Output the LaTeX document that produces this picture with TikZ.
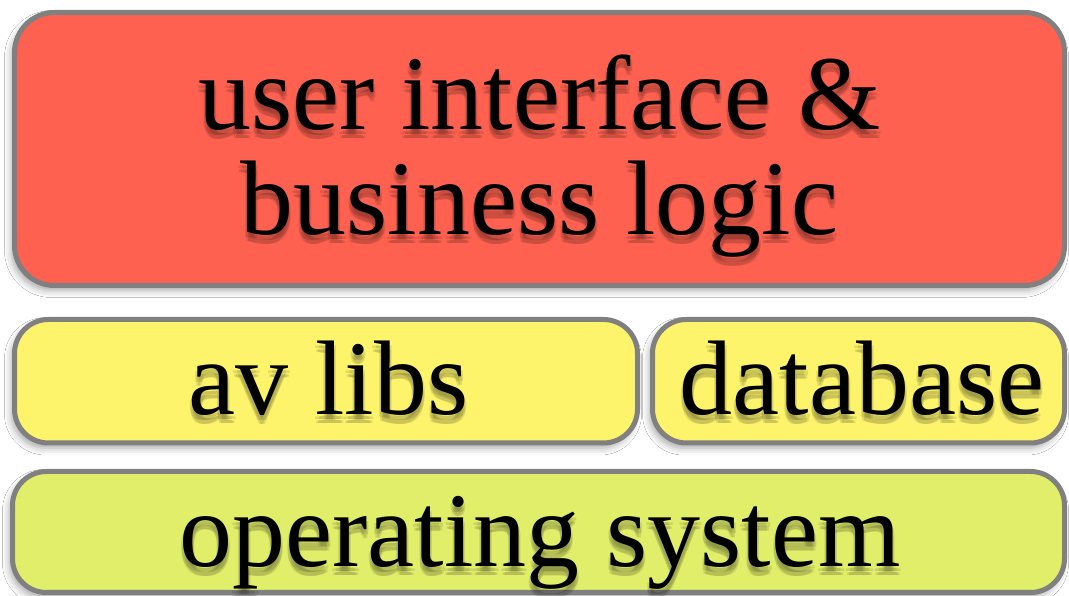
\documentclass[tikz,border=0pt]{standalone}
\usepackage{fontspec}
\setmainfont{Liberation Serif}
\usetikzlibrary{shadows.blur}
\definecolor{uired}{RGB}{254,97,80}
\definecolor{libyellow}{RGB}{253,244,108}
\definecolor{osgreen}{RGB}{225,238,106}
\definecolor{edgegray}{RGB}{128,128,128}
\tikzset{
  layer/.style={draw=edgegray, line width=5pt,
    blur shadow={shadow xshift=-3pt, shadow yshift=-5pt, shadow blur radius=7pt, shadow opacity=35}},
  big/.style={font=\fontsize{106}{105}\selectfont, inner sep=0pt, align=center},
  shtext/.style={big, text=black, opacity=0.1},
}
\begin{document}
\begin{tikzpicture}[x=1pt,y=1pt]
\useasboundingbox (0,0) rectangle (1069,596);
\fill[white] (0,0) rectangle (1069,596);
% boxes
\draw[layer, fill=uired, rounded corners=40pt] (14.5,310.5) rectangle (1064.5,583.5);
\draw[layer, fill=libyellow, rounded corners=34pt] (14.5,153) rectangle (637.5,276.5);
\draw[layer, fill=libyellow, rounded corners=34pt] (652.5,153) rectangle (1064.5,276.5);
\draw[layer, fill=osgreen, rounded corners=34pt] (12.5,3.5) rectangle (1064.5,124.5);
% text shadows
\foreach \dx/\dy [count=\i] in {-2/-5,2/-5,-1/-9,1/-9} {
  \node[shtext, anchor=base] (shui\i) at ([shift={(\dx,\dy)}]539.5,361) {user interface \&\\business logic};
  \node[shtext, anchor=base] (shav\i) at ([shift={(\dx,\dy)}]328.5,181) {av libs};
  \node[shtext, anchor=base] (shdb\i) at ([shift={(\dx,\dy)}]862,181) {database};
  \node[shtext, anchor=base] (shos\i) at ([shift={(\dx,\dy)}]540,29) {operating system};
}
% texts
\node[big, anchor=base] (ui) at (539.5,361) {user interface \&\\business logic};
\node[big, anchor=base] (av) at (328.5,181) {av libs};
\node[big, anchor=base] (db) at (862,181) {database};
\node[big, anchor=base] (os) at (540,29) {operating system};
\end{tikzpicture}
\end{document}
